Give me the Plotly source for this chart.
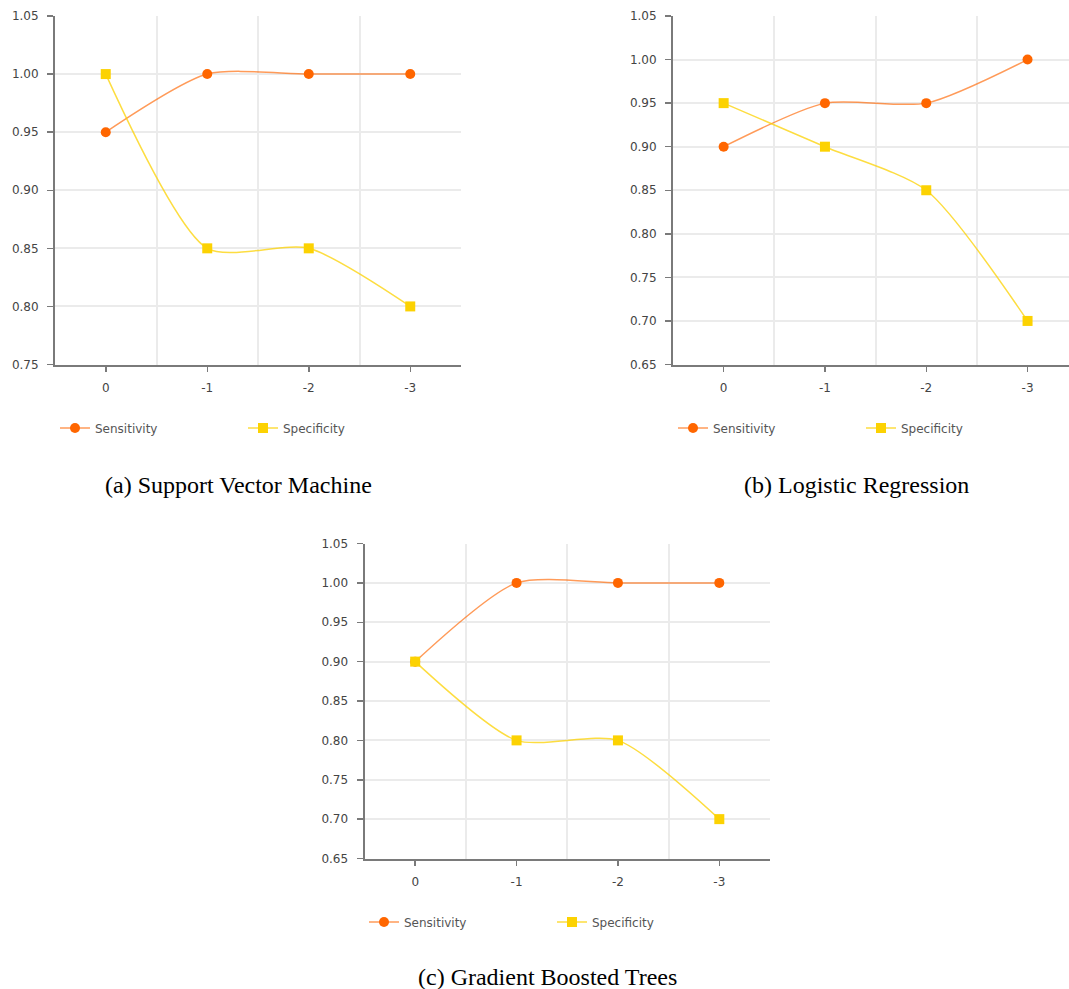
import plotly.graph_objects as go

categories = ["0", "-1", "-2", "-3"]
svm_sensitivity = [0.95, 1.00, 1.00, 1.00]
svm_specificity = [1.00, 0.85, 0.85, 0.80]
lr_sensitivity = [0.90, 0.95, 0.95, 1.00]
lr_specificity = [0.95, 0.90, 0.85, 0.70]
gbt_sensitivity = [0.90, 1.00, 1.00, 1.00]
gbt_specificity = [0.90, 0.80, 0.80, 0.70]
captions = ["(a) Support Vector Machine", "(b) Logistic Regression", "(c) Gradient Boosted Trees"]

W, H = 1069, 989
xpos = list(range(len(categories)))

SENS_M = "#FF6600"
SENS_L = "rgba(255,102,0,0.65)"
SPEC_M = "#FCD202"
SPEC_L = "rgba(252,210,2,0.75)"
GRID = "#EBEBEB"
AXIS = "#7A7A7A"
TICKFONT = dict(family="DejaVu Sans", size=12, color="#444444")
SMOOTH = 0.7

fig = go.Figure()

panels = [
    dict(sens=svm_sensitivity, spec=svm_specificity, xd=[55 / W, 461 / W],
         yd=[1 - 364.5 / H, 1 - 16 / H], yr=[0.75, 1.05], xr=[-0.5, 3.5]),
    dict(sens=lr_sensitivity, spec=lr_specificity, xd=[673 / W, 1.0],
         yd=[1 - 364.5 / H, 1 - 16 / H], yr=[0.65, 1.05], xr=[-0.5, (W - 673) / 101.3 - 0.5]),
    dict(sens=gbt_sensitivity, spec=gbt_specificity, xd=[364.5 / W, 770 / W],
         yd=[1 - 858.5 / H, 1 - 543.5 / H], yr=[0.65, 1.05], xr=[-0.5, 3.5]),
]

legend_pos = [(55 / W, 1 - 428 / H), (673 / W, 1 - 428 / H), (364 / W, 1 - 922 / H)]

for i, p in enumerate(panels):
    sfx = "" if i == 0 else str(i + 1)
    lg = "legend" if i == 0 else f"legend{i + 1}"
    fig.add_trace(go.Scatter(
        x=xpos, y=p["sens"], name="Sensitivity", mode="lines+markers",
        line=dict(color=SENS_L, width=1.5, shape="spline", smoothing=SMOOTH),
        marker=dict(color=SENS_M, size=10, symbol="circle"),
        xaxis="x" + sfx, yaxis="y" + sfx, legend=lg, cliponaxis=False))
    fig.add_trace(go.Scatter(
        x=xpos, y=p["spec"], name="Specificity", mode="lines+markers",
        line=dict(color=SPEC_L, width=1.5, shape="spline", smoothing=SMOOTH),
        marker=dict(color=SPEC_M, size=10, symbol="square"),
        xaxis="x" + sfx, yaxis="y" + sfx, legend=lg, cliponaxis=False))

    fig.update_layout(**{
        "xaxis" + sfx: dict(
            domain=p["xd"], anchor="y" + sfx, range=p["xr"],
            tickmode="array", tickvals=xpos, ticktext=categories,
            showgrid=False, zeroline=False,
            showline=True, linecolor=AXIS, linewidth=2,
            ticks="outside", ticklen=5, tickwidth=1.5, tickcolor=AXIS,
            tickfont=TICKFONT, ticklabelstandoff=6, automargin=False,
            minor=dict(tickmode="array", tickvals=[0.5, 1.5, 2.5, 3.5], showgrid=True,
                       gridcolor=GRID, gridwidth=2, ticks=""),
            fixedrange=True),
        "yaxis" + sfx: dict(
            domain=p["yd"], anchor="x" + sfx, range=p["yr"], dtick=0.05, tick0=0,
            tickformat=".2f", showgrid=True, gridcolor=GRID, gridwidth=2,
            zeroline=False, showline=True, linecolor=AXIS, linewidth=2,
            ticks="outside", ticklen=6, tickwidth=1.5, tickcolor=AXIS,
            tickfont=TICKFONT, ticklabelstandoff=6, automargin=False, fixedrange=True),
        lg: dict(
            x=legend_pos[i][0], y=legend_pos[i][1], xanchor="left", yanchor="middle",
            orientation="h", entrywidth=143, entrywidthmode="pixels",
            font=dict(family="DejaVu Sans", size=12, color="#555555"),
            bgcolor="rgba(0,0,0,0)", borderwidth=0, itemclick=False, itemdoubleclick=False),
    })

caption_pos = [(238.5, 485), (856.5, 485), (547.5, 977)]
for (cx, cy), txt in zip(caption_pos, captions):
    fig.add_annotation(
        x=cx / W, y=1 - cy / H, xref="paper", yref="paper", text=txt, showarrow=False,
        xanchor="center", yanchor="middle",
        font=dict(family="Liberation Serif", size=24, color="#000000"))

fig.update_layout(
    width=W, height=H, margin=dict(l=0, r=0, t=0, b=0, pad=0, autoexpand=False),
    paper_bgcolor="white", plot_bgcolor="white", showlegend=True)

fig.write_html("out.html", config={"displayModeBar": False, "staticPlot": True},
               post_script="document.body.style.margin='0';document.body.style.overflow='hidden';")
